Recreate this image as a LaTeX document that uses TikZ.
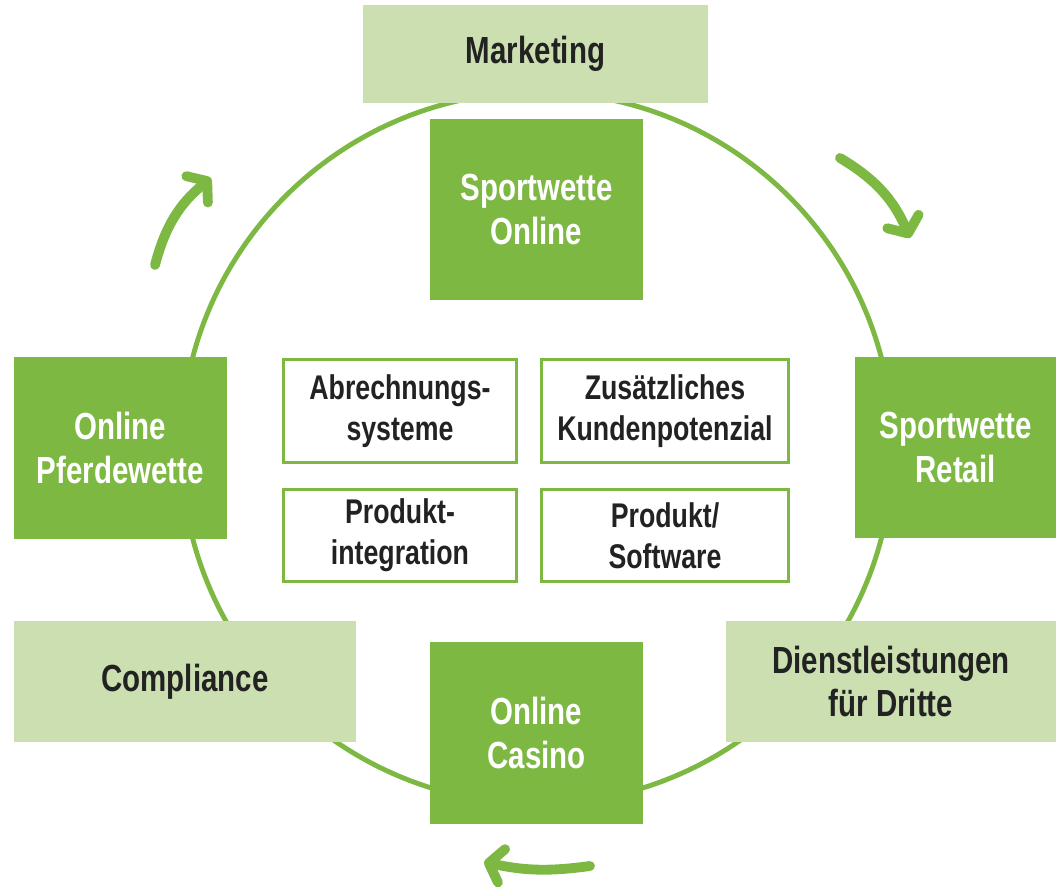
\documentclass[tikz,border=0pt]{standalone}
\usepackage{fontspec}
\newfontfamily\lblfont{Liberation Sans}[FakeStretch=0.78]
\usepackage{tikz}
\usetikzlibrary{arrows.meta,positioning,calc}
\definecolor{grDark}{HTML}{7DB843}
\definecolor{grLight}{HTML}{CBDFB0}
\definecolor{txDark}{HTML}{222222}
\tikzstyle{lab}=[font=\lblfont\bfseries\fontsize{21.5}{24.5}\selectfont, align=center, inner sep=0pt]
\tikzstyle{darkbox}=[lab, fill=grDark, text=white]
\tikzstyle{lightbox}=[lab, fill=grLight, text=txDark]
\tikzstyle{innerbox}=[lab, font=\lblfont\bfseries\fontsize{19.5}{23.2}\selectfont, fill=white, draw=grDark, line width=1.7pt, text=txDark]
\tikzstyle{flow}=[draw=grDark, line width=5.6pt, line cap=round, -{Straight Barb[round,length=2.6mm,width=6.8mm]}]

\begin{document}
\begin{tikzpicture}[x=0.02cm, y=-0.02cm]
        %
        \useasboundingbox (0,0) rectangle (1056,888);
        \node (mid) at (537,448) {};
        \draw[grDark, line width=2.8pt] (mid.center) circle (7.12cm);
        %
        \node at (535.5,54) [lightbox, minimum width=6.9cm, minimum height=1.96cm] (mkt) {Marketing};
        \node at (536.5,209.5) [darkbox, minimum width=4.26cm, minimum height=3.62cm] (swo) {Sportwette\\Online};
        \node at (955.5,447.5) [darkbox, minimum width=4.02cm, minimum height=3.62cm] (swr) {Sportwette\\Retail};
        \node at (120.5,448) [darkbox, minimum width=4.26cm, minimum height=3.64cm] (opw) {Online\\Pferdewette};
        \node at (185,681.5) [lightbox, minimum width=6.84cm, minimum height=2.42cm] (cmp) {Compliance};
        \node at (891,681.5) [lightbox, minimum width=6.6cm, minimum height=2.42cm] (dfd) {Dienstleistungen\\f\"ur Dritte};
        \node at (536.5,733) [darkbox, minimum width=4.26cm, minimum height=3.64cm] (ocs) {Online\\Casino};
        %
        \node at (400,411) [innerbox, minimum width=4.68cm, minimum height=2.08cm] (abr) {Abrechnungs-\\systeme};
        \node at (665,411) [innerbox, minimum width=4.96cm, minimum height=2.08cm] (zkp) {Zus\"atzliches\\Kundenpotenzial};
        \node at (400,535.5) [innerbox, minimum width=4.68cm, minimum height=1.86cm] (pin) {Produkt-\\integration};
        \node at (665,535.5) [innerbox, minimum width=4.96cm, minimum height=1.86cm] (psw) {Produkt/\\Software};
        %
        \coordinate (a1) at (155,265);
        \coordinate (a2) at (211,178);
        \coordinate (b1) at (840,158);
        \coordinate (b2) at (910,238);
        \coordinate (c1) at (590,866);
        \coordinate (c2) at (484,862);
        \draw[flow] (a1) to[bend left=18] (a2);
        \draw[flow] (b1) to[bend left=18] (b2);
        \draw[flow] (c1) to[bend left=10] (c2);
      %
      \end{tikzpicture}
\end{document}
